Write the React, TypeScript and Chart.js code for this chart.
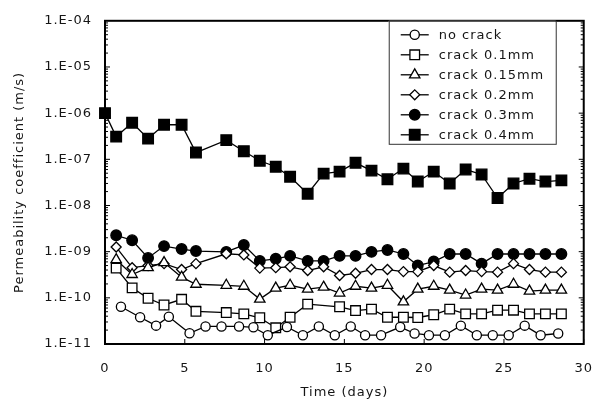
import React, { useEffect, useRef } from 'react';
import { Chart, registerables } from 'chart.js';

Chart.register(...registerables);

// ---- data ----
const days = [0, 0.7, 1.7, 2.7, 3.7, 4.8, 5.7, 7.6, 8.7, 9.7, 10.7, 11.6, 12.7, 13.7, 14.7, 15.7, 16.7, 17.7, 18.7, 19.6, 20.6, 21.6, 22.6, 23.6, 24.6, 25.6, 26.6, 27.6, 28.6];
const noCrackDays = [1.0, 2.2, 3.2, 4.0, 5.3, 6.3, 7.3, 8.4, 9.3, 10.2, 11.4, 12.4, 13.4, 14.4, 15.4, 16.3, 17.3, 18.5, 19.4, 20.3, 21.3, 22.3, 23.3, 24.3, 25.3, 26.3, 27.3, 28.4];
const noCrack = [6.4e-11, 3.8e-11, 2.5e-11, 3.9e-11, 1.71e-11, 2.4e-11, 2.4e-11, 2.4e-11, 2.3e-11, 1.55e-11, 2.33e-11, 1.55e-11, 2.4e-11, 1.55e-11, 2.4e-11, 1.55e-11, 1.55e-11, 2.33e-11, 1.69e-11, 1.55e-11, 1.55e-11, 2.5e-11, 1.55e-11, 1.55e-11, 1.55e-11, 2.5e-11, 1.55e-11, 1.69e-11];
const crack01 = [null, 4.4e-10, 1.64e-10, 9.8e-11, 7.0e-11, 9.3e-11, 5.1e-11, 4.8e-11, 4.5e-11, 3.7e-11, 2.24e-11, 3.8e-11, 7.3e-11, null, 6.4e-11, 5.3e-11, 5.7e-11, 3.8e-11, 3.8e-11, 3.75e-11, 4.3e-11, 5.7e-11, 4.5e-11, 4.5e-11, 5.4e-11, 5.4e-11, 4.5e-11, 4.5e-11, 4.5e-11];
const crack015 = [null, 6.7e-10, 3.2e-10, 4.5e-10, 5.8e-10, 2.8e-10, 1.97e-10, 1.87e-10, 1.78e-10, 9.4e-11, 1.62e-10, 1.87e-10, 1.54e-10, 1.7e-10, 1.27e-10, 1.78e-10, 1.62e-10, 1.87e-10, 8.2e-11, 1.54e-10, 1.78e-10, 1.47e-10, 1.15e-10, 1.54e-10, 1.47e-10, 1.97e-10, 1.4e-10, 1.47e-10, 1.47e-10];
const crack02 = [null, 1.26e-9, 4.5e-10, 5.0e-10, 5.5e-10, 4.1e-10, 5.5e-10, 9.0e-10, 8.5e-10, 4.4e-10, 4.5e-10, 4.7e-10, 3.9e-10, 4.7e-10, 3.05e-10, 3.4e-10, 4.1e-10, 4.1e-10, 3.7e-10, 3.7e-10, 5.0e-10, 3.6e-10, 3.9e-10, 3.7e-10, 3.6e-10, 5.5e-10, 4.1e-10, 3.6e-10, 3.6e-10];
const crack03 = [null, 2.26e-9, 1.77e-9, 7.3e-10, 1.32e-9, 1.14e-9, 1.03e-9, 9.9e-10, 1.39e-9, 6.3e-10, 7.0e-10, 8.1e-10, 6.3e-10, 6.3e-10, 8.1e-10, 8.1e-10, 9.9e-10, 1.09e-9, 8.9e-10, 5.0e-10, 6.1e-10, 8.9e-10, 8.9e-10, 5.5e-10, 8.9e-10, 8.9e-10, 8.9e-10, 8.9e-10, 8.9e-10];
const crack04 = [1.0e-6, 3.1e-7, 6.2e-7, 2.8e-7, 5.6e-7, 5.6e-7, 1.4e-7, 2.6e-7, 1.5e-7, 9.3e-8, 6.9e-8, 4.2e-8, 1.8e-8, 4.9e-8, 5.4e-8, 8.4e-8, 5.7e-8, 3.7e-8, 6.3e-8, 3.3e-8, 5.4e-8, 3.0e-8, 6.0e-8, 4.7e-8, 1.45e-8, 3.0e-8, 3.8e-8, 3.3e-8, 3.5e-8];

const seriesLabels = ['no crack', 'crack 0.1mm', 'crack 0.15mm', 'crack 0.2mm', 'crack 0.3mm', 'crack 0.4mm'];
const xTickValues = [0, 5, 10, 15, 20, 25, 30];
const yTickValues = [1e-11, 1e-10, 1e-9, 1e-8, 1e-7, 1e-6, 1e-5, 1e-4];
const yTickLabels = ['1.E-11', '1.E-10', '1.E-09', '1.E-08', '1.E-07', '1.E-06', '1.E-05', '1.E-04'];

const FONT = 'DejaVu Sans';
const TEXT = '#151515';

function drawMarker(ctx: CanvasRenderingContext2D, style: string, x: number, y: number, r: number, fill: string) {
  ctx.beginPath();
  if (style === 'circle') {
    ctx.arc(x, y, r, 0, Math.PI * 2);
  } else if (style === 'rect') {
    const s = Math.SQRT1_2 * r;
    ctx.rect(x - s, y - s, 2 * s, 2 * s);
  } else if (style === 'triangle') {
    let a = 0;
    ctx.moveTo(x + Math.sin(a) * r, y - Math.cos(a) * r);
    a += (2 * Math.PI) / 3;
    ctx.lineTo(x + Math.sin(a) * r, y - Math.cos(a) * r);
    a += (2 * Math.PI) / 3;
    ctx.lineTo(x + Math.sin(a) * r, y - Math.cos(a) * r);
    ctx.closePath();
  } else if (style === 'rectRot') {
    ctx.moveTo(x - r, y);
    ctx.lineTo(x, y - r);
    ctx.lineTo(x + r, y);
    ctx.lineTo(x, y + r);
    ctx.closePath();
  }
  ctx.fillStyle = fill;
  ctx.fill();
  ctx.lineWidth = 1.3;
  ctx.strokeStyle = '#000';
  ctx.stroke();
}

const spacingPlugin = {
  id: 'spacing',
  beforeUpdate(chart: any) {
    (chart.ctx as any).letterSpacing = '1px';
  },
  beforeDraw(chart: any) {
    (chart.ctx as any).letterSpacing = '1px';
  },
};

const framePlugin = {
  id: 'frame',
  afterDatasetsDraw(chart: any) {
    const { ctx, chartArea } = chart;
    const xs = chart.scales.x;
    const ys = chart.scales.y;
    ctx.save();
    ctx.strokeStyle = '#000';
    ctx.lineWidth = 1;
    ctx.beginPath();
    xTickValues.forEach((v) => {
      const px = xs.getPixelForValue(v);
      ctx.moveTo(px, chartArea.bottom);
      ctx.lineTo(px, chartArea.bottom - 5);
    });
    for (let e = -11; e < -4; e++) {
      for (let k = 1; k <= 9; k++) {
        const py = ys.getPixelForValue(k * Math.pow(10, e));
        const len = k === 1 ? 5 : 3;
        ctx.moveTo(chartArea.left, py);
        ctx.lineTo(chartArea.left + len, py);
        ctx.moveTo(chartArea.right, py);
        ctx.lineTo(chartArea.right - len, py);
      }
    }
    ctx.stroke();
    ctx.lineWidth = 2;
    ctx.strokeRect(chartArea.left, chartArea.top, chartArea.right - chartArea.left, chartArea.bottom - chartArea.top);
    ctx.restore();
  },
};

const legendPlugin = {
  id: 'boxLegend',
  afterDraw(chart: any) {
    const { ctx, chartArea } = chart;
    ctx.save();
    (ctx as any).letterSpacing = '1px';
    const left = chartArea.right - 195;
    const top = chartArea.top;
    const w = 167;
    const h = 123;
    ctx.fillStyle = '#fff';
    ctx.fillRect(left, top, w, h);
    ctx.strokeStyle = '#333';
    ctx.lineWidth = 1;
    ctx.strokeRect(left + 0.5, top + 0.5, w, h);
    chart.data.datasets.forEach((ds: any, i: number) => {
      const y = top + 14 + i * 20;
      ctx.beginPath();
      ctx.moveTo(left + 12, y);
      ctx.lineTo(left + 40, y);
      ctx.strokeStyle = '#000';
      ctx.lineWidth = 1.3;
      ctx.stroke();
      drawMarker(ctx, ds.pointStyle, left + 26, y, ds.pointRadius, ds.pointBackgroundColor);
      ctx.fillStyle = TEXT;
      ctx.font = `13px "${FONT}"`;
      ctx.textBaseline = 'middle';
      ctx.textAlign = 'left';
      ctx.fillText(ds.label, left + 50, y + 1);
    });
    ctx.restore();
  },
};

function makeDataset(label: string, xs: number[], ys: (number | null)[], style: string, r: number, fill: string) {
  return {
    label,
    data: xs.map((x, i) => ({ x, y: ys[i] })),
    borderColor: '#000',
    borderWidth: 1.3,
    pointStyle: style,
    pointRadius: r,
    pointBackgroundColor: fill,
    pointBorderColor: '#000',
    pointBorderWidth: 1.3,
    tension: 0,
    spanGaps: true,
    clip: false,
  };
}

export default function App() {
  const ref = useRef<HTMLCanvasElement | null>(null);

  useEffect(() => {
    document.body.style.margin = '0';
    const canvas = ref.current;
    if (!canvas) return;
    const font = { family: FONT, size: 13 };
    const chart = new Chart(canvas, {
      type: 'line',
      data: {
        datasets: [
          makeDataset(seriesLabels[0], noCrackDays, noCrack, 'circle', 4.6, '#fff'),
          makeDataset(seriesLabels[1], days, crack01, 'rect', 6.8, '#fff'),
          makeDataset(seriesLabels[2], days, crack015, 'triangle', 6, '#fff'),
          makeDataset(seriesLabels[3], days, crack02, 'rectRot', 5, '#fff'),
          makeDataset(seriesLabels[4], days, crack03, 'circle', 5.3, '#000'),
          makeDataset(seriesLabels[5], days, crack04, 'rect', 7.5, '#000'),
        ] as any,
      },
      options: {
        responsive: false,
        animation: false,
        devicePixelRatio: 1,
        layout: { padding: { left: 0, top: 14, right: 15, bottom: 0 } },
        plugins: { legend: { display: false }, tooltip: { enabled: false } },
        scales: {
          x: {
            type: 'linear',
            min: 0,
            max: 30,
            afterBuildTicks: (s: any) => {
              s.ticks = xTickValues.map((v) => ({ value: v }));
            },
            afterFit: (s: any) => {
              s.height = 59;
            },
            ticks: { font, color: TEXT, padding: 17, maxRotation: 0, callback: (v: any) => String(v) },
            grid: { display: false, drawTicks: false },
            border: { display: false },
            title: { display: true, text: 'Time (days)', font, color: TEXT, padding: { top: 0, bottom: 3 } },
          },
          y: {
            type: 'logarithmic',
            min: 1e-11,
            max: 1e-4,
            afterBuildTicks: (s: any) => {
              s.ticks = yTickValues.map((v) => ({ value: v }));
            },
            afterFit: (s: any) => {
              s.width = 105;
            },
            ticks: {
              font,
              color: TEXT,
              padding: 13,
              callback: (v: any) => {
                const idx = yTickValues.findIndex((t) => Math.abs(Math.log10(t) - Math.log10(v)) < 0.01);
                return idx >= 0 ? yTickLabels[idx] : '';
              },
            },
            grid: { display: false, drawTicks: false },
            border: { display: false },
            title: { display: true, text: 'Permeability coefficient (m/s)', font, color: TEXT, padding: { top: 12, bottom: 0 } },
          },
        },
      } as any,
      plugins: [spacingPlugin, framePlugin, legendPlugin] as any,
    });
    return () => chart.destroy();
  }, []);

  return (
    <div style={{ position: 'absolute', left: 0, top: 0, width: 610, height: 403, background: '#fff' }}>
      <canvas ref={ref} width={610} height={403} style={{ display: 'block' }} />
    </div>
  );
}
